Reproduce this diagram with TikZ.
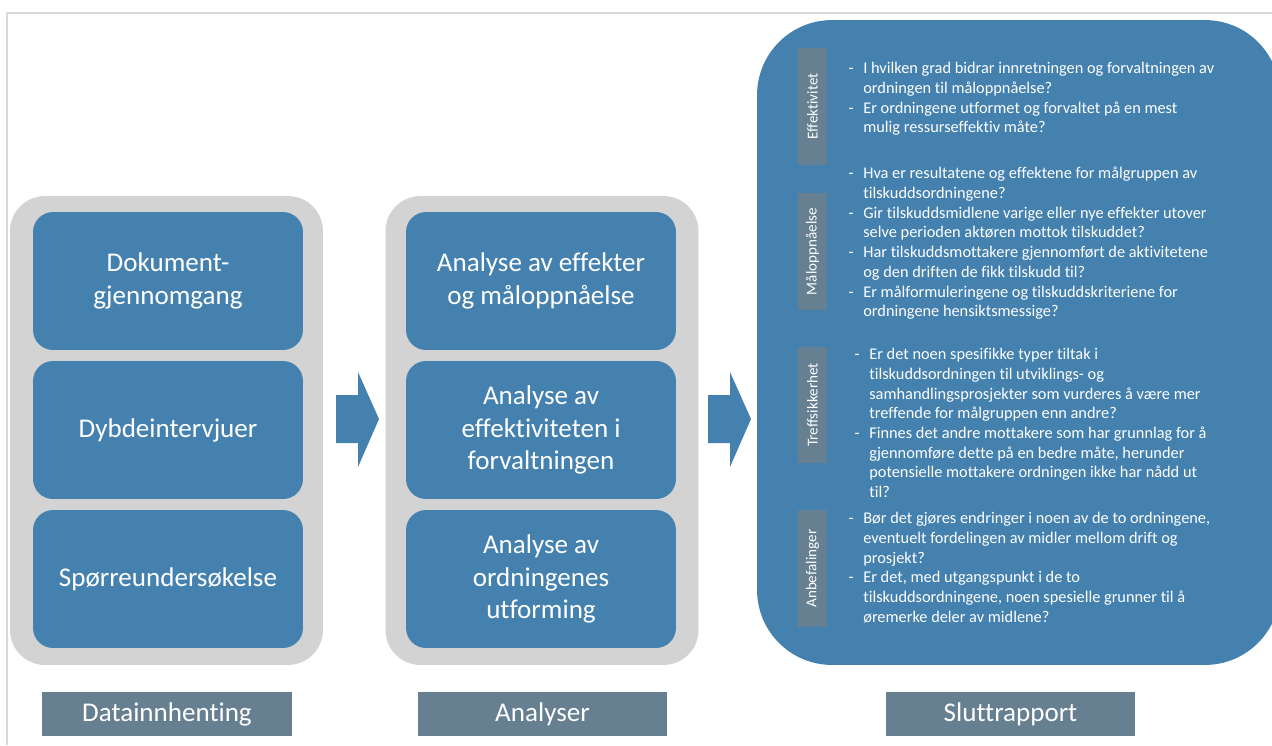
\documentclass[tikz,border=0pt]{standalone}
\usepackage{fontspec}
\setmainfont{Carlito}[Ligatures=CommonOff]
\usepackage{tikz}
\usetikzlibrary{positioning,calc}

\definecolor{boxblue}{HTML}{4481AF}
\definecolor{colgray}{HTML}{D3D3D3}
\definecolor{tabgray}{HTML}{667F91}
\definecolor{framegray}{HTML}{D9D9D9}
\newcommand{\qdash}{\llap{-\hspace{5.5pt}}}

\begin{document}
\begin{tikzpicture}[x=0.02cm, y=-0.02cm,
    column/.style={rectangle, fill=colgray, rounded corners=0.7cm, minimum width=6.26cm, minimum height=9.38cm},
    box/.style={rectangle, fill=boxblue, rounded corners=0.4cm, minimum width=5.4cm, minimum height=2.76cm, align=center, text=white, font=\fontsize{15.4}{18.6}\selectfont},
    tag/.style={rectangle, fill=tabgray, minimum width=5cm, minimum height=0.88cm, text=white, font=\fontsize{15.4}{18.6}\selectfont},
    side/.style={rectangle, fill=tabgray, rotate=90, minimum width=2.34cm, minimum height=0.58cm, inner sep=0pt, text=white, font=\fontsize{8.6}{10}\selectfont},
    question/.style={anchor=north west, inner sep=0pt, align=left, text=white, font=\fontsize{9.3}{11.2}\selectfont},
    flow/.style={fill=boxblue}
]
\useasboundingbox (0,0) rectangle (1272,745);

% Frame
\draw[framegray, line width=1.1pt] (7,745) -- (7,13) -- (1272,13);

% Columns
\node[column] (data) at (166.5,430.5) {};
\node[column] (ana) at (542,430.5) {};

% Data collection
\node[box] (dok) at (168,281) {Dokument-\\gjennomgang};
\node[box] (dyb) at (168,430) {Dybdeintervjuer};
\node[box] (spu) at (168,579) {Spørreundersøkelse};

% Analyses
\node[box] (eff) at (541,281) {Analyse av effekter\\og måloppnåelse};
\node[box] (forv) at (541,430) {Analyse av\\effektiviteten i\\forvaltningen};
\node[box] (utf) at (541,579) {Analyse av\\ordningenes\\utforming};

% Report
\node[rectangle, fill=boxblue, rounded corners=1.5cm, minimum width=10.46cm, minimum height=12.9cm] (rapport) at (1018.5,342.5) {};

% Block arrows
\coordinate (a1) at (336,419);
\coordinate (a2) at (708,419);
\fill[flow] (a1) ++(0,-24) -- ++(22,0) -- ++(0,-23) -- ++(21,47) -- ++(-21,48) -- ++(0,-24) -- ++(-22,0) -- cycle;
\fill[flow] (a2) ++(0,-24) -- ++(22,0) -- ++(0,-23) -- ++(21,47) -- ++(-21,48) -- ++(0,-24) -- ++(-22,0) -- cycle;

% Side tabs
\node[side] (s1) at (812.5,106.5) {Effektivitet};
\node[side] (s2) at (812.5,251.5) {Måloppnåelse};
\node[side] (s3) at (812.5,405) {Treffsikkerhet};
\node[side] (s4) at (812.5,568.5) {Anbefalinger};

% Questions
\node[question] (q1) at (863,62) {\qdash I hvilken grad bidrar innretningen og forvaltningen av\\ordningen til måloppnåelse?\\\qdash Er ordningene utformet og forvaltet på en mest\\mulig ressurseffektiv måte?};
\node[question] (q2) at (863,167) {\qdash Hva er resultatene og effektene for målgruppen av\\tilskuddsordningene?\\\qdash Gir tilskuddsmidlene varige eller nye effekter utover\\selve perioden aktøren mottok tilskuddet?\\\qdash Har tilskuddsmottakere gjennomført de aktivitetene\\og den driften de fikk tilskudd til?\\\qdash Er målformuleringene og tilskuddskriteriene for\\ordningene hensiktsmessige?};
\node[question] (q3) at (869,348) {\qdash Er det noen spesifikke typer tiltak i\\tilskuddsordningen til utviklings- og\\samhandlingsprosjekter som vurderes å være mer\\treffende for målgruppen enn andre?\\\qdash Finnes det andre mottakere som har grunnlag for å\\gjennomføre dette på en bedre måte, herunder\\potensielle mottakere ordningen ikke har nådd ut\\til?};
\node[question] (q4) at (863,512) {\qdash Bør det gjøres endringer i noen av de to ordningene,\\eventuelt fordelingen av midler mellom drift og\\prosjekt?\\\qdash Er det, med utgangspunkt i de to\\tilskuddsordningene, noen spesielle grunner til å\\øremerke deler av midlene?};

% Phase labels
\node[tag] (t1) at (167,714) {Datainnhenting};
\node[tag] (t2) at (542.5,714) {Analyser};
\node[tag] (t3) at (1010.5,714) {Sluttrapport};
\end{tikzpicture}
\end{document}
